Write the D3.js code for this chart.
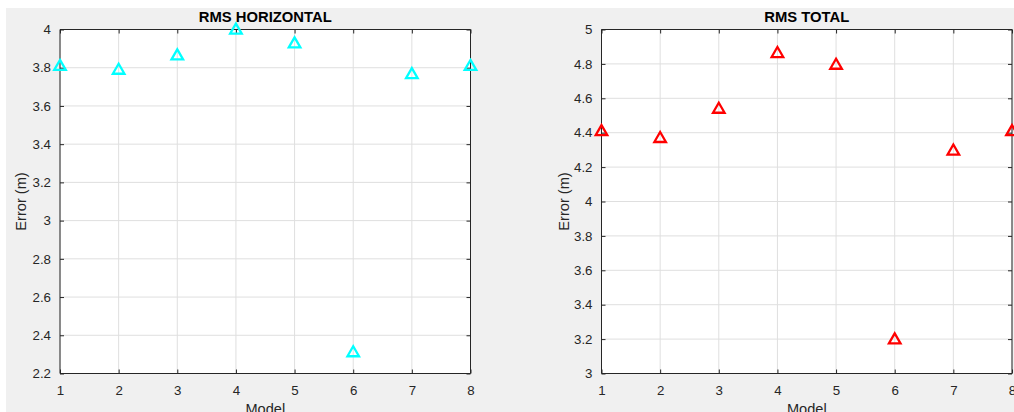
<!DOCTYPE html>
<html><head><meta charset="utf-8">
<script src="https://cdn.jsdelivr.net/npm/d3@7"></script>
<style>
html,body{margin:0;padding:0;background:#fff;overflow:hidden;}
svg{display:block;font-family:"Liberation Sans",Arial,Helvetica,sans-serif;}
</style></head>
<body>
<svg id="chart" width="1014" height="412"></svg>
<script>
const models = [1,2,3,4,5,6,7,8];
const rmsHorizontal = [3.81,3.79,3.865,4.0,3.928,2.312,3.767,3.81];
const rmsTotal = [4.41,4.37,4.54,4.864,4.796,3.199,4.297,4.41];
const xTicks = [1,2,3,4,5,6,7,8];
const yTicksH = [2.2,2.4,2.6,2.8,3,3.2,3.4,3.6,3.8,4];
const yTicksT = [3,3.2,3.4,3.6,3.8,4,4.2,4.4,4.6,4.8,5];

const svg = d3.select("#chart");
svg.append("rect").attr("x",6).attr("y",8).attr("width",1008).attr("height",404).attr("fill","#f0f0f0");

const axColor = "#262626";
const gridColor = "#dfdfdf";

function panel(cfg){
  const {x0,x1,y0,y1,yDomain,yTicks,data,color,title,labelX} = cfg;
  const x = d3.scaleLinear().domain([1,8]).range([x0,x1]);
  const y = d3.scaleLinear().domain(yDomain).range([y1,y0]);
  const g = svg.append("g");
  g.append("rect").attr("x",x0).attr("y",y0).attr("width",x1-x0).attr("height",y1-y0).attr("fill","#fff");
  g.append("g").selectAll("line").data(xTicks).join("line")
    .attr("x1",d=>x(d)).attr("x2",d=>x(d)).attr("y1",y0).attr("y2",y1)
    .attr("stroke",gridColor).attr("stroke-width",1);
  g.append("g").selectAll("line").data(yTicks).join("line")
    .attr("x1",x0).attr("x2",x1).attr("y1",d=>y(d)).attr("y2",d=>y(d))
    .attr("stroke",gridColor).attr("stroke-width",1);
  const fmt = d=>d3.format("")(+d.toFixed(1));
  const axB = d3.axisBottom(x).tickValues(xTicks).tickSize(-4).tickPadding(12).tickFormat(fmt);
  const axL = d3.axisLeft(y).tickValues(yTicks).tickSize(-4).tickPadding(9).tickFormat(fmt);
  const axT = d3.axisTop(x).tickValues(xTicks).tickSize(-4).tickFormat("");
  const axR = d3.axisRight(y).tickValues(yTicks).tickSize(-4).tickFormat("");
  const style = sel=>{
    sel.selectAll("path").attr("stroke",axColor).attr("stroke-width",1);
    sel.selectAll("line").attr("stroke",axColor);
    sel.selectAll("text").attr("fill",axColor).style("font-size","13.3px").style("font-family","Liberation Sans, Arial, sans-serif");
  };
  g.append("g").attr("transform",`translate(0,${y1})`).call(axB).call(style).call(s=>s.selectAll("path").attr("d",`M${x0},0H${x1}`));
  g.append("g").attr("transform",`translate(0,${y0})`).call(axT).call(style).call(s=>s.selectAll("path").attr("d",`M${x0},0H${x1}`));
  g.append("g").attr("transform",`translate(${x0},0)`).call(axL).call(style).call(s=>s.selectAll("path").attr("d",`M0,${y0}V${y1}`));
  g.append("g").attr("transform",`translate(${x1},0)`).call(axR).call(style).call(s=>s.selectAll("path").attr("d",`M0,${y0}V${y1}`));
  const tri = d3.symbol().type(d3.symbolTriangle).size(58);
  g.append("g").selectAll("path").data(data).join("path")
    .attr("d",tri)
    .attr("transform",(d,i)=>`translate(${x(models[i])},${y(d)+0.8})`)
    .attr("fill","none").attr("stroke",color).attr("stroke-width",2.3);
  g.append("text").attr("x",(x0+x1)/2).attr("y",22).attr("text-anchor","middle")
    .attr("font-weight","bold").attr("font-size","14.8px").attr("fill","#000").text(title);
  g.append("text").attr("x",(x0+x1)/2).attr("y",414).attr("text-anchor","middle")
    .attr("font-size","14.6px").attr("fill",axColor).text("Model");
  g.append("text").attr("transform",`translate(${labelX},${(y0+y1)/2}) rotate(-90)`)
    .attr("text-anchor","middle").attr("dominant-baseline","middle")
    .attr("font-size","14.6px").attr("fill",axColor).text("Error (m)");
}

panel({x0:60,x1:470.5,y0:29.5,y1:373.5,yDomain:[2.2,4],yTicks:yTicksH,data:rmsHorizontal,color:"#00ffff",title:"RMS HORIZONTAL",labelX:22});
panel({x0:601.5,x1:1012,y0:29.5,y1:373.5,yDomain:[3,5],yTicks:yTicksT,data:rmsTotal,color:"#ff0000",title:"RMS TOTAL",labelX:565});
</script>
</body></html>
